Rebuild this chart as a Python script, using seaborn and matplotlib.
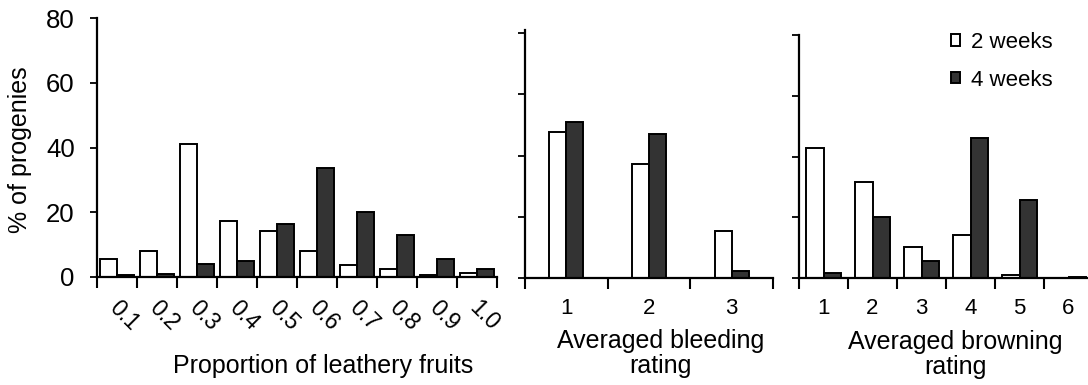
import numpy as np
import pandas as pd
import matplotlib
matplotlib.use("Agg")
import matplotlib.pyplot as plt
import seaborn as sns
from matplotlib.transforms import ScaledTranslation

# ---------------- data ----------------
weeks = ["2 weeks", "4 weeks"]

leathery_cats = ["0.1", "0.2", "0.3", "0.4", "0.5", "0.6", "0.7", "0.8", "0.9", "1.0"]
leathery_2wk = [5.5, 7.9, 41.0, 17.2, 14.1, 8.0, 3.6, 2.4, 0.5, 1.1]
leathery_4wk = [0.5, 1.0, 4.1, 4.8, 16.5, 33.7, 20.2, 12.9, 5.5, 2.4]

bleeding_cats = ["1", "2", "3"]
bleeding_2wk = [47.6, 37.3, 15.4]
bleeding_4wk = [50.9, 47.0, 2.3]

browning_cats = ["1", "2", "3", "4", "5", "6"]
browning_2wk = [42.7, 31.6, 10.3, 14.1, 1.0, 0.0]
browning_4wk = [1.6, 20.0, 5.7, 46.2, 25.9, 0.5]

y_ticks = [0, 20, 40, 60, 80]


def long_df(cats, v2, v4):
    return pd.DataFrame({
        "cat": list(cats) * 2,
        "week": [weeks[0]] * len(cats) + [weeks[1]] * len(cats),
        "pct": list(v2) + list(v4),
    })


# ---------------- style ----------------
sns.set_style("ticks")
plt.rcParams["font.family"] = ["Liberation Sans", "DejaVu Sans"]
plt.rcParams["axes.linewidth"] = 1.6
for k in ["text.color", "axes.labelcolor", "xtick.color", "ytick.color", "axes.edgecolor"]:
    plt.rcParams[k] = "black"

palette = {weeks[0]: "white", weeks[1]: "#333333"}

W, H = 1088, 385
fig = plt.figure(figsize=(W / 100, H / 100), dpi=100)

ax1 = fig.add_axes([97 / W, (H - 277) / H, 400 / W, 259 / H])
ax2 = fig.add_axes([525 / W, (H - 278.3) / H, 248 / W, 248.3 / H])
ax3 = fig.add_axes([799 / W, (H - 278.3) / H, 294 / W, 243.3 / H])

panels = [
    (ax1, leathery_cats, leathery_2wk, leathery_4wk, 0.834, (0, 80)),
    (ax2, bleeding_cats, bleeding_2wk, bleeding_4wk, 0.41, (0, 81)),
    (ax3, browning_cats, browning_2wk, browning_4wk, 0.72, (0, 80)),
]

for i, (ax, cats, v2, v4, w, ylim) in enumerate(panels):
    df = long_df(cats, v2, v4)
    sns.barplot(data=df, x="cat", y="pct", hue="week", order=cats,
                hue_order=weeks, palette=palette, width=w, dodge=True,
                edgecolor="black", linewidth=1.4, saturation=1,
                legend=(ax is ax3), ax=ax)
    n = len(cats)
    ax.set_xlim(-0.5, n - 0.5)
    ax.set_ylim(*ylim)
    ax.set_yticks(y_ticks)
    ax.set_xticks(np.arange(n))
    ax.set_xticks(np.arange(-0.5, n, 1.0), minor=True)
    ax.tick_params(axis="x", which="major", length=0)
    ax.tick_params(axis="x", which="minor", length=8, width=1.5, direction="out")
    ax.tick_params(axis="y", which="major", length=5, width=1.3, direction="out")
    sns.despine(ax=ax)
    ax.set_ylabel("")

# panel 1 details
ax1.tick_params(axis="y", labelsize=18.5, pad=11)
ax1.set_xticklabels(leathery_cats)
ax1.tick_params(axis="x", which="major", labelsize=16.5, pad=14, labelrotation=-45)
for lab in ax1.get_xticklabels():
    lab.set_ha("center")
    lab.set_va("top")
    lab.set_transform(lab.get_transform() + ScaledTranslation(0.07, 0, fig.dpi_scale_trans))
ax1.set_ylabel("% of progenies", fontsize=18)
ax1.yaxis.set_label_coords(-0.1625, 0.49)
ax1.set_xlabel("Proportion of leathery fruits", fontsize=18)
ax1.xaxis.set_label_coords(0.565, -0.298)

# panel 2
ax2.tick_params(axis="y", labelleft=False)
ax2.tick_params(axis="x", which="major", labelsize=16, pad=14)
ax2.set_xlabel("Averaged bleeding\nrating", fontsize=18, linespacing=1.05)
ax2.xaxis.set_label_coords(0.548, -0.205)

# panel 3
ax3.tick_params(axis="y", labelleft=False)
ax3.tick_params(axis="x", which="major", labelsize=16, pad=14)
ax3.set_xlabel("Averaged browning\nrating", fontsize=18, linespacing=1.05)
ax3.xaxis.set_label_coords(0.531, -0.213)

sns.move_legend(ax3, loc="upper left",
                bbox_to_anchor=(951 / W, 1 - 32 / H),
                bbox_transform=fig.transFigure,
                frameon=False, title=None, fontsize=16,
                handlelength=0.42, handleheight=0.42, handletextpad=0.5,
                labelspacing=0.75, borderpad=0, borderaxespad=0)

fig.savefig("out.png", dpi=100)
